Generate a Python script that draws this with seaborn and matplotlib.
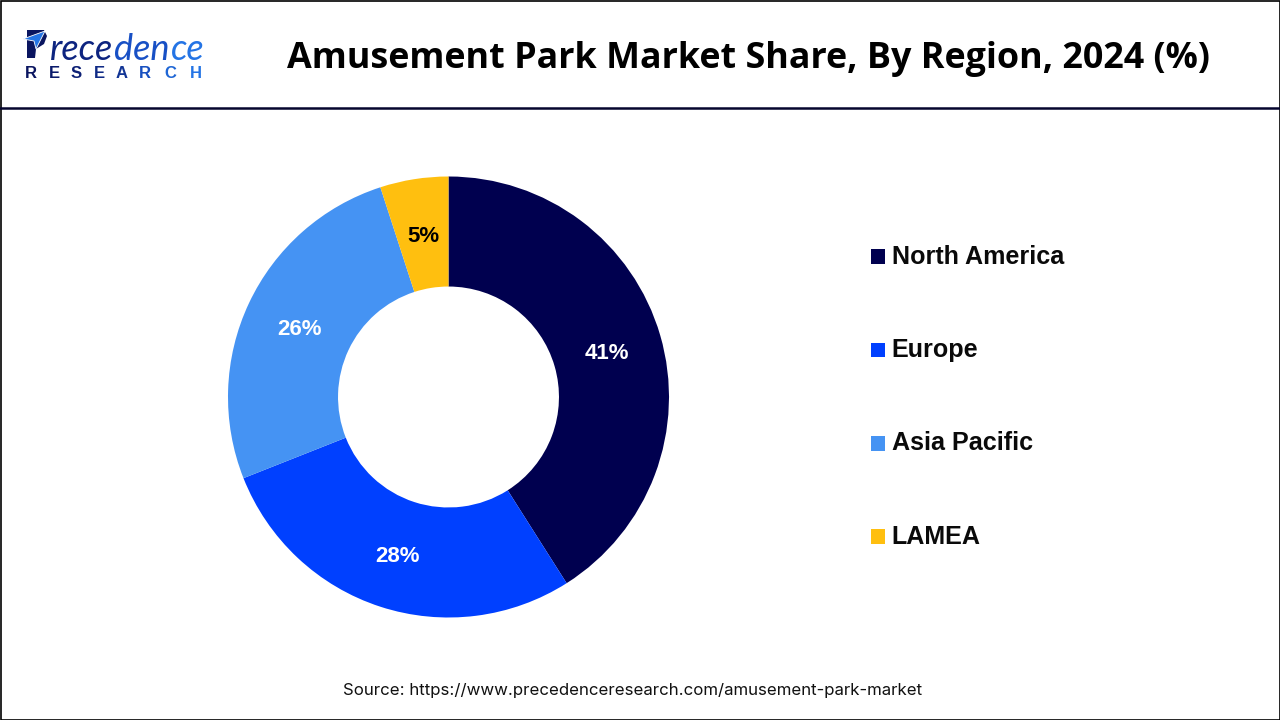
import matplotlib
matplotlib.use("Agg")
import matplotlib.pyplot as plt
from matplotlib.patches import Rectangle, Polygon
import seaborn as sns

regions = ["North America", "Europe", "Asia Pacific", "LAMEA"]
shares = [41, 28, 26, 5]
share_labels = ["41%", "28%", "26%", "5%"]
colors = ["#00004F", "#0040FF", "#4593F3", "#FFBF0F"]
label_colors = ["white", "white", "white", "black"]
title = "Amusement Park Market Share, By Region, 2024 (%)"
source = "Source: https://www.precedenceresearch.com/amusement-park-market"
logo_top = ["rece", "den", "ce"]
logo_bottom = list("RESEARCH")
logo_top_colors = ["#0D2480", "#1850C5", "#2474E5"]
logo_bottom_colors = ["#0A1560", "#0A1A6B", "#0D2075", "#0F2A85", "#123595", "#1850C0", "#1F66D5", "#2474E5"]

sns.set_theme(style="white")
palette = sns.color_palette(colors)
W, H = 1280, 720
fig = plt.figure(figsize=(12.8, 7.2), dpi=100, facecolor="white")

# Page overlay in pixel coordinates
bg = fig.add_axes([0, 0, 1, 1])
bg.set_xlim(0, W)
bg.set_ylim(H, 0)
bg.axis("off")
bg.add_patch(Rectangle((0.5, 0.5), W - 1, H - 1, fill=False, ec="black", lw=1.2))
bg.plot([0, W], [107.5, 107.5], color="#05052E", lw=1.8)

# Donut
cx, cy, R = 448.5, 397, 220.5
ax = fig.add_axes([(cx - R) / W, 1 - (cy + R) / H, 2 * R / W, 2 * R / H])
wedges, _ = ax.pie(shares, colors=palette, startangle=90, counterclock=False, radius=1,
                   wedgeprops=dict(width=0.499, linewidth=0))
ax.set_xlim(-1, 1)
ax.set_ylim(-1, 1)
ax.set_aspect("equal")
ax.axis("off")

label_px = [(607, 353.5), (398, 556), (299, 329.5), (423, 236)]
for (x, y), t, c in zip(label_px, share_labels, label_colors):
    bg.text(x, y, t, color=c, ha="center", va="center", fontsize=16,
            fontweight="bold", family="Liberation Sans", zorder=5)
bg.set_zorder(3)

# Legend
legend_y = [256.5, 350, 443.5, 536.5]
for y, name, col in zip(legend_y, regions, palette):
    bg.add_patch(Rectangle((870.5, y - 7.5), 14.5, 14.5, fc=col, ec="none"))
    bg.text(891.5, y, name, ha="left", va="center", fontsize=18.1,
            fontweight="bold", family="Liberation Sans", color="#0A0A0A")

# Title and source
bg.text(748, 59, title, ha="center", va="center", fontsize=25.8,
        fontweight="bold", family="Open Sans", color="black")
bg.text(633, 690, source, ha="center", va="center", fontsize=12.15,
        family="Inter", color="#111111")

# Logo
bg.add_patch(Polygon([(27, 30), (44, 30), (47, 36), (44, 44), (36, 49), (35, 58), (27, 58)],
                     fc="#0A1560", ec="none"))
bg.add_patch(Polygon([(23, 39), (45, 31), (36, 49), (34, 41)], fc="#2474E5", ec="white", lw=0.6))
x_top = [50, 114, 171]
for x, ch, col in zip(x_top, logo_top, logo_top_colors):
    bg.text(x, 60, ch, ha="left", va="baseline", fontsize=26, family="Lato",
            style="italic", color=col)
x_bot = [31, 54, 76, 99, 122, 145, 170, 196]
for x, ch, col in zip(x_bot, logo_bottom, logo_bottom_colors):
    bg.text(x, 77.5, ch, ha="center", va="baseline", fontsize=12,
            fontweight="bold", family="Liberation Sans", color=col)

fig.savefig("out.png", dpi=100, facecolor="white")
